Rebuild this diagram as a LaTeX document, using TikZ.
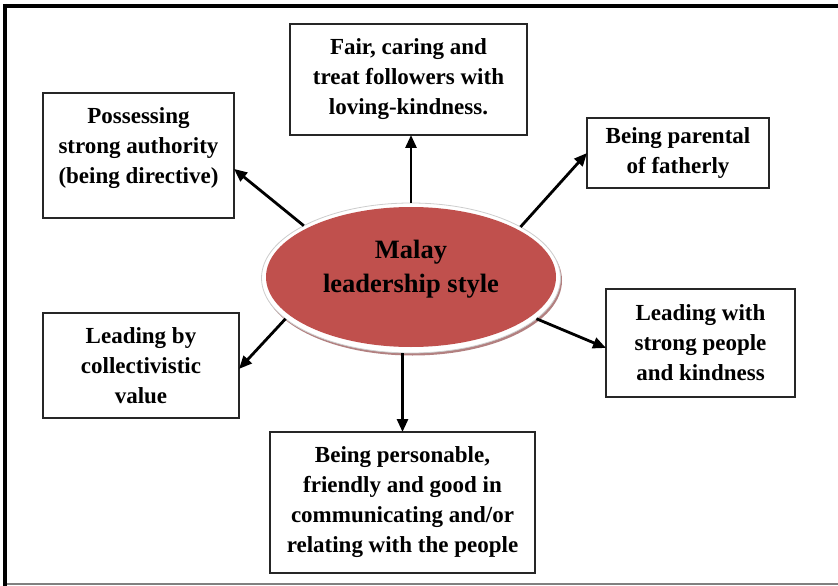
\documentclass[tikz,border=0pt]{standalone}
\usepackage{fontspec}
\setmainfont{Liberation Serif}
\usetikzlibrary{shapes.geometric,arrows.meta,calc}
\definecolor{malayred}{RGB}{192,80,77}
\definecolor{shadowc}{RGB}{178,128,128}
\definecolor{rimc}{RGB}{205,205,205}
\tikzset{
  box/.style={draw=black!85, line width=1.2bp, rectangle, inner sep=0pt, outer sep=0pt,
    align=center, font=\fontsize{23bp}{30bp}\selectfont\bfseries},
  txt/.style={align=center, inner sep=0pt, font=\fontsize{23bp}{30bp}\selectfont\bfseries},
  arr/.style={line width=2.8bp, -{Triangle[length=13bp,width=11bp]}},
}
\begin{document}
\begin{tikzpicture}[x=1bp,y=-1bp]
\useasboundingbox (0,0) rectangle (838,586);
% outer frame
\draw[line width=4bp] (3,6) -- (838,6);
\draw[line width=4.6bp] (5,4) -- (5,586);
\draw[gray, line width=2bp] (7.3,584.3) -- (838,584.3);

% central ellipse
\fill[shadowc] (412.5,280.5) ellipse (149.5bp and 75bp);
\node[ellipse, minimum width=299bp, minimum height=150bp, inner sep=0pt, outer sep=0pt,
  fill=white, draw=rimc, line width=0.8bp] (ell) at (411,278) {};
\fill[malayred] (411,277) ellipse (145bp and 70bp);
\node[txt, font=\fontsize{26.5bp}{34bp}\selectfont\bfseries] (title) at (411,269) {Malay\\leadership style};

% boxes
\node[box, minimum width=191bp, minimum height=125bp] (poss) at (138.5,155.5) {};
\node[txt] (posst) at (138.5,148.5) {Possessing\\strong authority\\(being directive)};
\node[box, minimum width=237bp, minimum height=111bp] (fair) at (408.5,79.5) {Fair, caring and\\treat followers with\\loving-kindness.};
\node[box, minimum width=182bp, minimum height=70bp] (par) at (678,153) {Being parental\\of fatherly};
\node[box, minimum width=189bp, minimum height=108bp] (lwith) at (700.5,343) {Leading with\\strong people\\and kindness};
\node[box, minimum width=265bp, minimum height=141bp] (pers) at (402.5,502.5) {Being personable,\\friendly and good in\\communicating and/or\\relating with the people};
\node[box, minimum width=196bp, minimum height=105bp] (lby) at (141,365.5) {Leading by\\collectivistic\\value};

% connectors
\draw[arr] (ell.154.6) -- (poss.-8.6);
\draw[arr] (ell.north) -- (ell.north |- fair.south);
\draw[arr] (ell.25.7) -- (par.west);
\draw[arr] (ell.-18.7) -- (lwith.183);
\draw[arr] (ell.south -| pers.north) -- (pers.north);
\draw[arr] (ell.198.9) -- (lby.-2.6);
\end{tikzpicture}
\end{document}
